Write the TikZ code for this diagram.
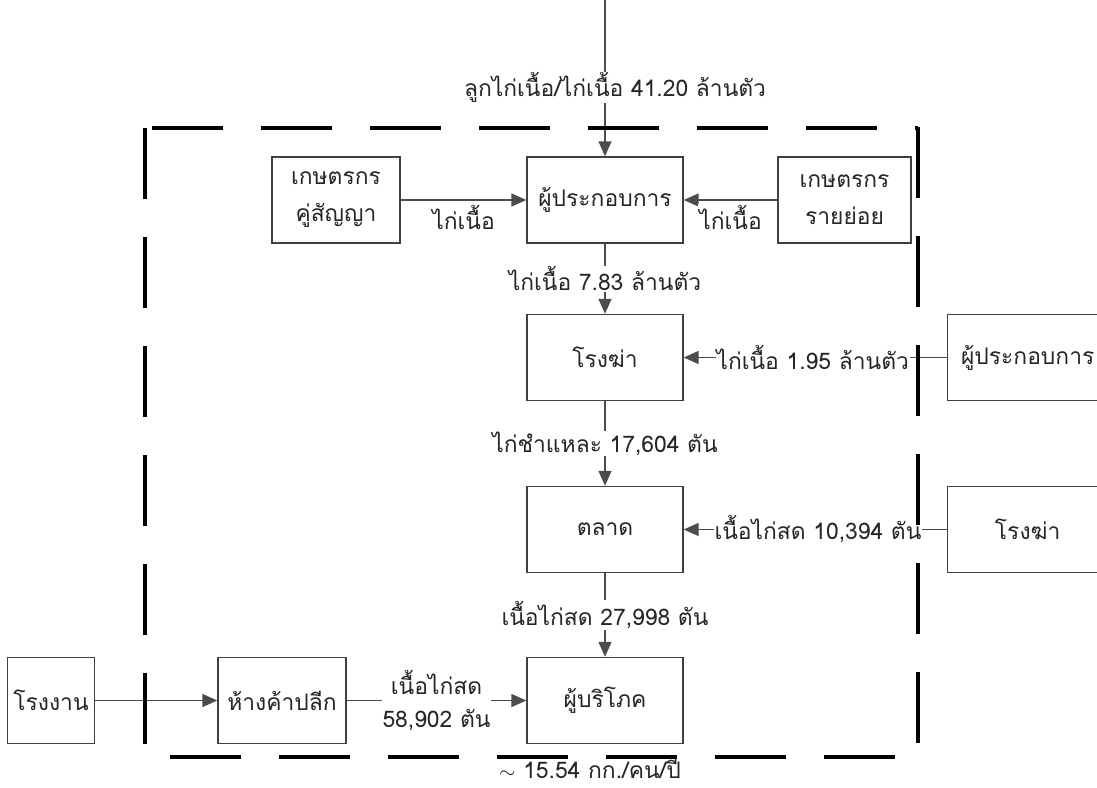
\documentclass[tikz,border=0pt]{standalone}
\usepackage{fontspec}
\newfontfamily\thaifont[Script=Thai]{Loma}
\usetikzlibrary{arrows.meta}

\begin{document}
\begin{tikzpicture}[x=0.02cm,y=-0.02cm,>={Triangle[length=3mm,width=2.6mm]},
    box/.style={draw=black!75, line width=0.8pt, fill=white, align=center,
      minimum width=3.12cm, minimum height=1.72cm, text=black!85,
      font=\thaifont\fontsize{13}{21}\selectfont},
    lbl/.style={fill=white, inner sep=0.5pt, align=center, text=black!85,
      font=\thaifont\fontsize{13}{19}\selectfont},
    flow/.style={->, black!70, line width=0.8pt},
    dashframe/.style={line width=2.5pt, dash pattern=on 1.42cm off 0.76cm}]
    \useasboundingbox (0,0) rectangle (1097,787);

    \coordinate (src) at (605,0);
    \node[box]                      (oper)         at (605,200)   {ผู้ประกอบการ};
    \node[box, minimum width=2.56cm] (contract)     at (336,200)   {เกษตรกร\\คู่สัญญา};
    \node[box, minimum width=2.66cm] (smallfarm)    at (844.5,200) {เกษตรกร\\รายย่อย};
    \node[box]                      (slaughter)    at (605,357.5) {โรงฆ่า};
    \node[box, minimum width=3.2cm, anchor=west] (operout)      at (947,357.5) {ผู้ประกอบการ};
    \node[box]                      (market)       at (605,529.5) {ตลาด};
    \node[box, minimum width=3.2cm, anchor=west] (slaughterout) at (947,529.5) {โรงฆ่า};
    \node[box]                      (consumer)     at (605,700.5) {ผู้บริโภค};
    \node[box, minimum width=2.56cm] (retail)       at (282,700.5) {ห้างค้าปลีก};
    \node[box, minimum width=1.68cm] (factory)      at (51,700.5)  {โรงงาน};

    \path[flow]
    (src)          edge node[lbl, pos=0.56, xshift=0.2cm] {ลูกไก่เนื้อ/ไก่เนื้อ~41.20 ล้านตัว} (oper)
    (contract)     edge node[lbl, below=2pt] {ไก่เนื้อ}                  (oper)
    (smallfarm)    edge node[lbl, below=2pt] {ไก่เนื้อ}                  (oper)
    (oper)         edge node[lbl] {ไก่เนื้อ~7.83 ล้านตัว}               (slaughter)
    (operout)      edge node[lbl, pos=0.51] {ไก่เนื้อ 1.95 ล้านตัว}     (slaughter)
    (slaughter)    edge node[lbl] {ไก่ชำแหละ~17,604~ตัน}              (market)
    (slaughterout) edge node[lbl, pos=0.49] {เนื้อไก่สด 10,394 ตัน}    (market)
    (market)       edge node[lbl] {เนื้อไก่สด 27,998 ตัน}              (consumer)
    (factory)      edge                                                 (retail)
    (retail)       edge node[lbl] {เนื้อไก่สด\\58,902 ตัน}             (consumer)
    ;

    % dashed boundary
    \draw[dashframe] (152,128) -- (918,128);
    \draw[dashframe] (918,127) -- (918,757);
    \draw[dashframe] (170,757) -- (918,757);
    \draw[dashframe] (145,128) -- (145,757);

    \node[lbl, fill=none, inner sep=0pt] (rate) at (590,769) {$\sim$ 15.54 กก./คน/ปี};
  \end{tikzpicture}
\end{document}
